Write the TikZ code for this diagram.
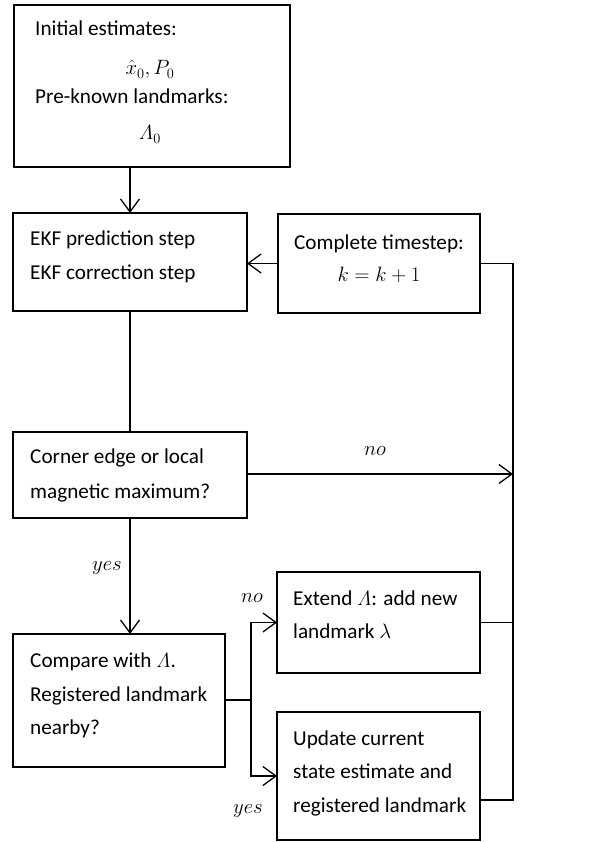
\documentclass[tikz,border=0pt]{standalone}
\usepackage{amsmath}
\usepackage{fontspec}
\setmainfont{Carlito}
\usetikzlibrary{arrows.meta}
\begin{document}
\begin{tikzpicture}[x=1pt,y=-1pt,
  box/.style={draw, line width=1.3pt, inner sep=0pt, outer sep=0pt},
  lbl/.style={font=\fontsize{21.2}{25}\selectfont, inner sep=0pt, anchor=base west},
  ctr/.style={lbl, anchor=base},
  mth/.style={font=\fontsize{22}{26}\selectfont, inner sep=0pt, anchor=base},
  yn/.style={font=\fontsize{22.5}{26}\selectfont, inner sep=0pt, anchor=base},
  conn/.style={line width=1.3pt},
  arr/.style={conn, -{Straight Barb[length=13pt,width=19pt,line width=1.3pt]}}
]
\useasboundingbox (0,0) rectangle (612,842);

% boxes
\node[box, minimum width=276pt, minimum height=162pt] (b1) at (152,86) {};
\node[box, minimum width=234pt, minimum height=98pt] (b2) at (130,262) {};
\node[box, minimum width=202pt, minimum height=99pt] (bc) at (379,263.5) {};
\node[box, minimum width=234pt, minimum height=86pt] (b3) at (130,475) {};
\node[box, minimum width=212pt, minimum height=133pt] (b4) at (119,700.5) {};
\node[box, minimum width=203pt, minimum height=101pt] (be) at (378.5,622.5) {};
\node[box, minimum width=203pt, minimum height=128pt] (bu) at (378.5,776) {};

% texts
\node[lbl] (t1a) at (35,36) {Initial estimates:};
\node[mth] (t1b) at (150,75) {$\hat{x}_0, P_0$};
\node[lbl] (t1c) at (35,104) {Pre-known landmarks:};
\node[mth] (t1d) at (150,140) {$\varLambda_0$};

\node[lbl] (t2a) at (30,245) {EKF prediction step};
\node[lbl] (t2b) at (30,279) {EKF correction step};

\node[ctr] (tca) at (379,249) {Complete timestep:};
\node[mth] (tcb) at (379,281) {$k=k+1$};

\node[lbl] (t3a) at (30,463) {Corner edge or local};
\node[lbl] (t3b) at (30,498) {magnetic maximum?};

\node[lbl] (t4a) at (30,667) {Compare with $\varLambda$.};
\node[lbl] (t4b) at (30,701) {Registered landmark};
\node[lbl] (t4c) at (30,734) {nearby?};

\node[lbl] (tea) at (293,605) {Extend $\varLambda$: add new};
\node[lbl] (teb) at (293,638) {landmark $\lambda$};

\node[lbl] (tua) at (293,745) {Update current};
\node[lbl] (tub) at (293,778) {state estimate and};
\node[lbl] (tuc) at (293,812) {registered landmark};

% branch points
\coordinate (rtop) at (513,264);
\coordinate (rbot) at (513,800);
\coordinate (rno) at (513,474);
\coordinate (bj) at (251,700);

% connectors
\draw[arr] (b2.north |- b1.south) -- (b2.north);
\draw[arr] (bc.west) -- (bc.west -| b2.east);
\draw[conn] (b2.south) -- (b3.north);
\draw[arr] (b3.south) -- (b3.south |- b4.north);
\draw[arr] (b3.east |- rno) -- (rno);
\draw[conn] (bc.east) -| (rbot) -- (rbot -| bu.east);
\draw[conn] (be.east) -- (be.east -| rtop);
\draw[conn] (b4.east |- bj) -- (bj);
\draw[arr] (bj) |- (be.west);
\draw[arr] (bj) |- (bu.west);

% labels
\node[yn] (lno1) at (375,455) {$no$};
\node[yn] (lyes1) at (107,570) {$yes$};
\node[yn] (lno2) at (252,602) {$no$};
\node[yn] (lyes2) at (248,813) {$yes$};
\end{tikzpicture}
\end{document}
